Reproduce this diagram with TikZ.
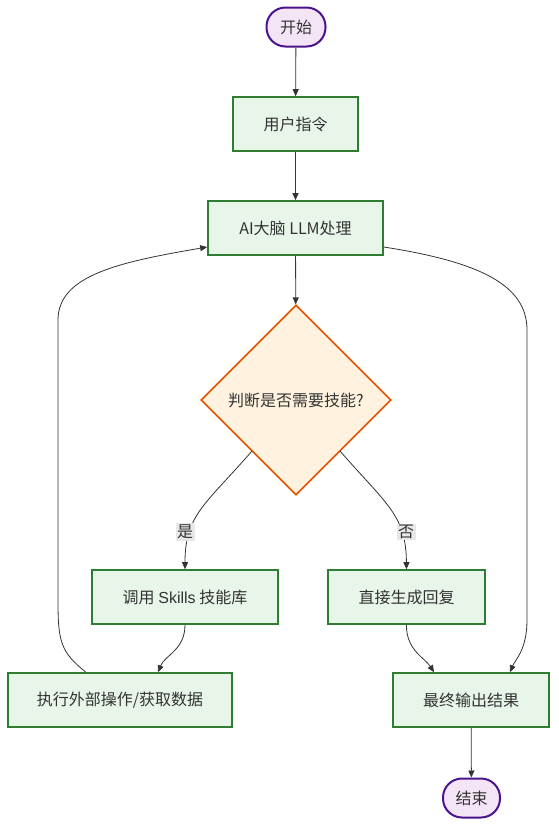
\documentclass[tikz,border=0pt]{standalone}
\usepackage{fontspec}
\setmainfont{Liberation Sans}
\newfontfamily\cjk{Noto Sans CJK SC}
\usetikzlibrary{shapes.geometric,arrows.meta}
\definecolor{gfill}{HTML}{E8F5E9}
\definecolor{gdraw}{HTML}{2E7D32}
\definecolor{pfill}{HTML}{F3E5F5}
\definecolor{pdraw}{HTML}{4A148C}
\definecolor{ofill}{HTML}{FFF3E0}
\definecolor{odraw}{HTML}{E65100}
\definecolor{txt}{HTML}{333333}
\definecolor{lbl}{HTML}{E8E8E8}
\begin{document}
\begin{tikzpicture}[x=1pt,y=-1pt,
  every node/.style={text=txt,font=\fontsize{16}{19}\selectfont\cjk,inner sep=0pt},
  procbox/.style={draw=gdraw,fill=gfill,line width=1.6pt,minimum height=54pt},
  term/.style={draw=pdraw,fill=pfill,line width=2pt,rounded corners=19pt,minimum height=39pt},
  decide/.style={draw=odraw,fill=ofill,line width=1.6pt,diamond,minimum width=190pt,minimum height=190pt,aspect=1},
  conn/.style={draw=txt,line width=0.8pt,-{Triangle[length=7pt,width=6pt]}},
  elabel/.style={fill=lbl,inner sep=1.5pt}]
\useasboundingbox (0,0) rectangle (558,825);
\node[term,minimum width=59pt] (start) at (296,27) {开始};
\node[procbox,minimum width=125pt] (user) at (295.5,124) {用户指令};
\node[procbox,minimum width=175pt] (ai) at (295.5,228) {AI{\cjk 大脑} LLM{\cjk 处理}};
\node[decide] (dec) at (296,400) {判断是否需要技能?};
\node[procbox,minimum width=186pt] (skills) at (185,597) {调用 {\fontspec{Liberation Sans}Skills} 技能库};
\node[procbox,minimum width=157pt] (direct) at (406.5,597) {直接生成回复};
\node[procbox,minimum width=224pt] (exec) at (120,700) {执行外部操作/获取数据};
\node[procbox,minimum width=156pt] (final) at (471,700) {最终输出结果};
\node[term,minimum width=57pt] (stop) at (471.5,798) {结束};
\coordinate (decL) at (252,451);
\coordinate (decR) at (340,451);
\draw[conn] (start) -- (user);
\draw[conn] (user) -- (ai);
\draw[conn] (ai) -- (dec);
\draw[conn] (decL) .. controls (205,505) and (185,515) .. (skills.north);
\draw[conn] (decR) .. controls (387,505) and (406,515) .. (direct.north);
\node[elabel] (yes) at (185,532) {是};
\node[elabel] (no) at (406,532) {否};
\draw[conn] (skills.south) .. controls (185,650) and (165,655) .. ([xshift=38pt]exec.north);
\draw[conn] ([xshift=-34pt]exec.north) .. controls (60,652) and (58,640) .. (58,600) -- (58,320) .. controls (58,275) and (120,262) .. ([yshift=-19pt]ai.west);
\draw[conn] ([yshift=-19pt]ai.east) .. controls (480,262) and (527,285) .. (527,330) -- (527,620) .. controls (527,650) and (515,660) .. ([xshift=39pt]final.north);
\draw[conn] (direct.south) .. controls (406,650) and (425,658) .. ([xshift=-37pt]final.north);
\draw[conn] (final) -- (stop);
\end{tikzpicture}
\end{document}
